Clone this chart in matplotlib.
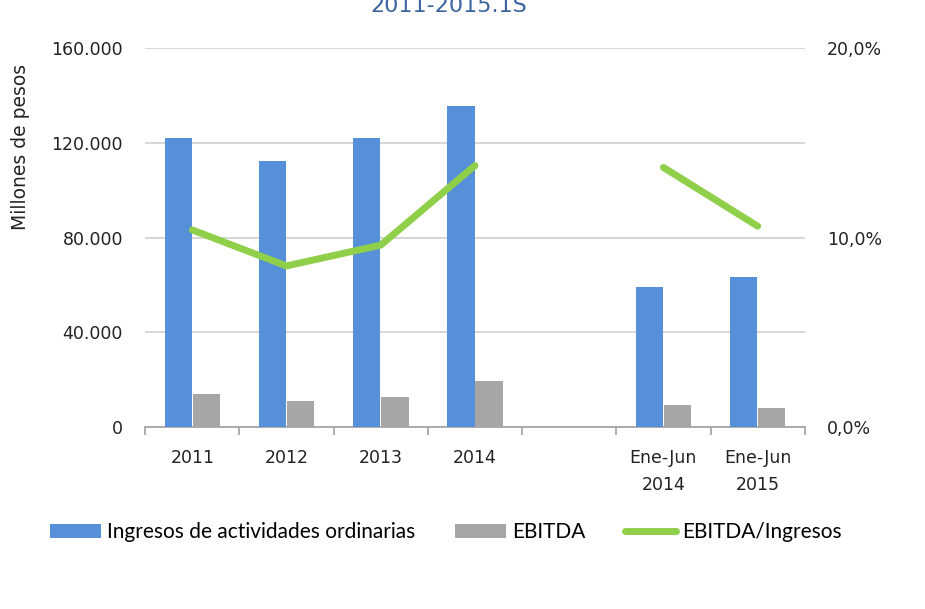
import numpy as np
import matplotlib
matplotlib.use("Agg")
import matplotlib.pyplot as plt
from matplotlib.ticker import FuncFormatter

plt.rcParams['font.family'] = ['DejaVu Sans']

# data (millones de pesos / ratio %)
categorias = ['2011', '2012', '2013', '2014', '', 'Ene-Jun\n2014', 'Ene-Jun\n2015']
ingresos = [122000, 112500, 122000, 135500, np.nan, 59000, 63500]
ebitda = [13800, 10800, 12500, 19500, np.nan, 9200, 7800]
ratio = [10.4, 8.5, 9.6, 13.8, np.nan, 13.7, 10.6]

azul = '#5590d8'
gris = '#a6a6a6'
verde = '#8fcf4a'

fig = plt.figure(figsize=(9.25, 6.09), dpi=100)
ax = fig.add_axes([0.157, 0.299, 0.713, 0.622])
ax2 = ax.twinx()

x = np.arange(len(categorias))
w = 0.29
b1 = ax.bar(x - w / 2 - 0.005, ingresos, w, color=azul, label='Ingresos de actividades ordinarias', zorder=3)
b2 = ax.bar(x + w / 2 + 0.005, ebitda, w, color=gris, label='EBITDA', zorder=3)
l1, = ax2.plot(x, ratio, color=verde, lw=5, solid_capstyle='round', label='EBITDA/Ingresos', zorder=4)

ax.set_xlim(-0.5, len(categorias) - 0.5)
ax.set_ylim(0, 160000)
ax.set_yticks(np.arange(0, 160001, 40000))
ax.yaxis.set_major_formatter(FuncFormatter(lambda v, p: '0' if v == 0 else '{:,.0f}'.format(v).replace(',', '.')))
ax2.set_ylim(0, 20)
ax2.set_yticks([0, 10, 20])
ax2.yaxis.set_major_formatter(FuncFormatter(lambda v, p: '{:.1f}%'.format(v).replace('.', ',')))

ax.grid(axis='y', color='#d0d0d0', lw=1.2, zorder=0)
for a in (ax, ax2):
    for s in ['top', 'left', 'right', 'bottom']:
        a.spines[s].set_visible(False)
ax.spines['bottom'].set_visible(True)
ax.spines['bottom'].set_color('#a0a0a0')
ax.spines['bottom'].set_linewidth(1.2)

ax.set_xticks(x)
ax.set_xticklabels(categorias, fontsize=12.5, color='#222222', linespacing=1.65)
ax.set_xticks(np.arange(-0.5, len(categorias)), minor=True)
ax.tick_params(axis='x', which='major', length=0, pad=16)
ax.tick_params(axis='x', which='minor', length=6, color='#a0a0a0', width=1.2)
ax.tick_params(axis='y', length=0, labelsize=12.5, pad=16, labelcolor='#222222')
ax2.tick_params(axis='y', length=0, labelsize=12.5, pad=16, labelcolor='#222222')

fig.text(0.022, 0.758, 'Millones de pesos', rotation=90, ha='center', va='center', fontsize=13.5, color='#222222')
fig.text(0.485, 1.006, '2011-2015.1S', ha='center', va='top', fontsize=16, color='#3b64a0')

fig.legend(handles=[b1, b2, l1], loc='center', bbox_to_anchor=(0.482, 0.126), ncol=3, frameon=False,
           handlelength=2.45, handletextpad=0.3, columnspacing=1.9,
           prop={'family': 'Lato', 'size': 15})

fig.savefig('out.png', dpi=100)
